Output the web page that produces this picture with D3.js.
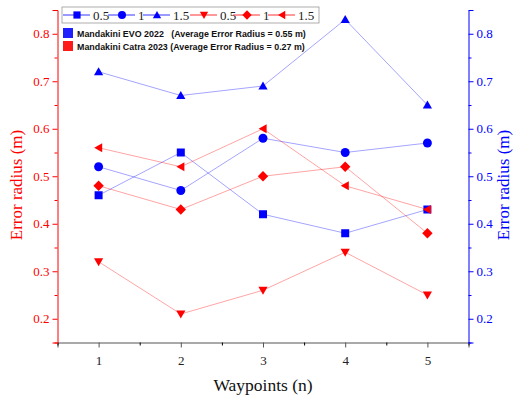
<!DOCTYPE html>
<html>
<head>
<meta charset="utf-8">
<script src="https://cdn.jsdelivr.net/npm/d3@7"></script>
<style>
  body { margin: 0; background: #fff; }
  text { font-family: "Liberation Serif", "Times New Roman", serif; }
</style>
</head>
<body>
<svg id="chart"></svg>
<script>
const WIDTH = 513, HEIGHT = 396;
const LEFT = 57.5, RIGHT = 468.5, TOP = 10, BOTTOM = 342.5;

const waypoints = [1, 2, 3, 4, 5];
const evo05 = [0.46, 0.55, 0.42, 0.38, 0.43];
const evo10 = [0.52, 0.47, 0.58, 0.55, 0.57];
const evo15 = [0.72, 0.67, 0.69, 0.83, 0.65];
const catra05 = [0.32, 0.21, 0.26, 0.34, 0.25];
const catra10 = [0.48, 0.43, 0.50, 0.52, 0.38];
const catra15 = [0.56, 0.52, 0.60, 0.48, 0.43];
const yTicks = [0.2, 0.3, 0.4, 0.5, 0.6, 0.7, 0.8];
const yMinor = [0.15, 0.25, 0.35, 0.45, 0.55, 0.65, 0.75, 0.85];
const xMinor = [0.5, 1.5, 2.5, 3.5, 4.5, 5.5];
const legendRows = [
    { name: "Mandakini EVO 2022   (Average Error Radius = 0.55 m)", color: "#2020ff" },
    { name: "Mandakini Catra 2023 (Average Error Radius = 0.27 m)", color: "#ff1a1a" }
];

const BLUE = "#0000ff", RED = "#ff0000";
const series = [
    { label: "0.5", values: evo05, color: BLUE, shape: "square" },
    { label: "1", values: evo10, color: BLUE, shape: "circle" },
    { label: "1.5", values: evo15, color: BLUE, shape: "up" },
    { label: "0.5", values: catra05, color: RED, shape: "down" },
    { label: "1", values: catra10, color: RED, shape: "diamond" },
    { label: "1.5", values: catra15, color: RED, shape: "left" }
];

const svg = d3.select("#chart").attr("width", WIDTH).attr("height", HEIGHT);

const x = d3.scaleLinear().domain([0.5, 5.5]).range([LEFT, RIGHT]);
const yL = d3.scaleLinear().domain([0.15, 0.85]).range([BOTTOM, TOP]);
const yR = d3.scaleLinear().domain([0.15, 0.85]).range([BOTTOM, TOP]);

function markerPath(shape, s) {
    switch (shape) {
        case "square": return `M${-s},${-s}H${s}V${s}H${-s}Z`;
        case "circle": return d3.symbol(d3.symbolCircle, Math.PI * s * s * 1.25)();
        case "up": return `M0,${-s * 1.1}L${s * 1.15},${s * 0.9}L${-s * 1.15},${s * 0.9}Z`;
        case "down": return `M0,${s * 1.1}L${s * 1.15},${-s * 0.9}L${-s * 1.15},${-s * 0.9}Z`;
        case "diamond": return `M0,${-s * 1.3}L${s * 1.3},0L0,${s * 1.3}L${-s * 1.3},0Z`;
        case "left": return `M${-s * 1.1},0L${s * 0.9},${-s * 1.15}L${s * 0.9},${s * 1.15}Z`;
    }
}

// axes
const xAxis = svg.append("g").attr("transform", `translate(0,${BOTTOM})`)
    .call(d3.axisBottom(x).tickValues(waypoints).tickFormat(d3.format("d")).tickSize(5).tickPadding(8));
svg.append("g").attr("transform", `translate(0,${BOTTOM})`)
    .call(d3.axisBottom(x).tickValues(xMinor).tickFormat("").tickSize(3))
    .select(".domain").remove();
xAxis.selectAll("path, line").attr("stroke", "#555");
xAxis.selectAll("text").attr("font-size", 13).attr("fill", "#222")
    .style("font-family", "'Liberation Serif', serif");

const leftAxis = svg.append("g").attr("transform", `translate(${LEFT},0)`)
    .call(d3.axisLeft(yL).tickValues(yTicks).tickFormat(d3.format(".1f")).tickSize(5).tickPadding(3));
const leftMinor = svg.append("g").attr("transform", `translate(${LEFT},0)`)
    .call(d3.axisLeft(yL).tickValues(yMinor).tickFormat("").tickSize(3));
leftMinor.select(".domain").remove();
leftAxis.selectAll("path, line").attr("stroke", RED);
leftMinor.selectAll("line").attr("stroke", RED);
leftAxis.selectAll("text").attr("font-size", 13).attr("fill", RED)
    .style("font-family", "'Liberation Serif', serif");

const rightAxis = svg.append("g").attr("transform", `translate(${RIGHT},0)`)
    .call(d3.axisRight(yR).tickValues(yTicks).tickFormat(d3.format(".1f")).tickSize(5).tickPadding(3));
const rightMinor = svg.append("g").attr("transform", `translate(${RIGHT},0)`)
    .call(d3.axisRight(yR).tickValues(yMinor).tickFormat("").tickSize(3));
rightMinor.select(".domain").remove();
rightAxis.selectAll("path, line").attr("stroke", BLUE);
rightMinor.selectAll("line").attr("stroke", BLUE);
rightAxis.selectAll("text").attr("font-size", 13).attr("fill", BLUE)
    .style("font-family", "'Liberation Serif', serif");

// axis titles
svg.append("text")
    .attr("transform", `translate(22,185) rotate(-90)`)
    .attr("text-anchor", "middle").attr("font-size", 17).attr("fill", RED)
    .text("Error radius (m)");
svg.append("text")
    .attr("transform", `translate(508.5,185) rotate(-90)`)
    .attr("text-anchor", "middle").attr("font-size", 17).attr("fill", BLUE)
    .text("Error radius (m)");
svg.append("text")
    .attr("x", 263).attr("y", 391)
    .attr("text-anchor", "middle").attr("font-size", 17.5).attr("fill", "#111")
    .text("Waypoints (n)");

// series
const line = y => d3.line().x((d, i) => x(waypoints[i])).y(d => y(d));
series.forEach(s => {
    const y = s.color === RED ? yL : yR;
    svg.append("path")
        .datum(s.values)
        .attr("fill", "none")
        .attr("stroke", s.color)
        .attr("stroke-opacity", 0.4)
        .attr("stroke-width", 0.9)
        .attr("d", line(y));
    svg.append("g").selectAll("path")
        .data(s.values)
        .enter()
        .append("path")
        .attr("transform", (d, i) => `translate(${x(waypoints[i])},${y(d)})`)
        .attr("d", markerPath(s.shape, 4))
        .attr("fill", s.color);
});

// legend
const legend = svg.append("g");
legend.append("rect")
    .attr("x", 62).attr("y", 7).attr("width", 257).attr("height", 16)
    .attr("fill", "#fff").attr("stroke", "#999").attr("stroke-width", 0.8);
const itemX = [63, 108, 143, 190, 233, 268];
series.forEach((s, i) => {
    const x0 = itemX[i];
    const g = legend.append("g").attr("transform", `translate(${x0},15)`);
    g.append("line").attr("x1", 0).attr("x2", 27).attr("stroke", s.color).attr("stroke-width", 0.8);
    g.append("path").attr("transform", "translate(14,0)").attr("d", markerPath(s.shape, 3.6)).attr("fill", s.color);
    g.append("text").attr("x", 30).attr("y", 5).attr("font-size", 13).attr("fill", "#222").text(s.label);
});

legendRows.forEach((r, i) => {
    const yy = 28 + i * 13;
    legend.append("rect").attr("x", 63).attr("y", yy).attr("width", 10).attr("height", 10).attr("fill", r.color);
    legend.append("text")
        .attr("x", 77).attr("y", yy + 8.5)
        .attr("font-size", 8.9).attr("font-weight", "bold")
        .style("font-family", "'Liberation Sans', Arial, sans-serif")
        .style("white-space", "pre")
        .attr("fill", "#111")
        .text(r.name);
});
</script>
</body>
</html>
